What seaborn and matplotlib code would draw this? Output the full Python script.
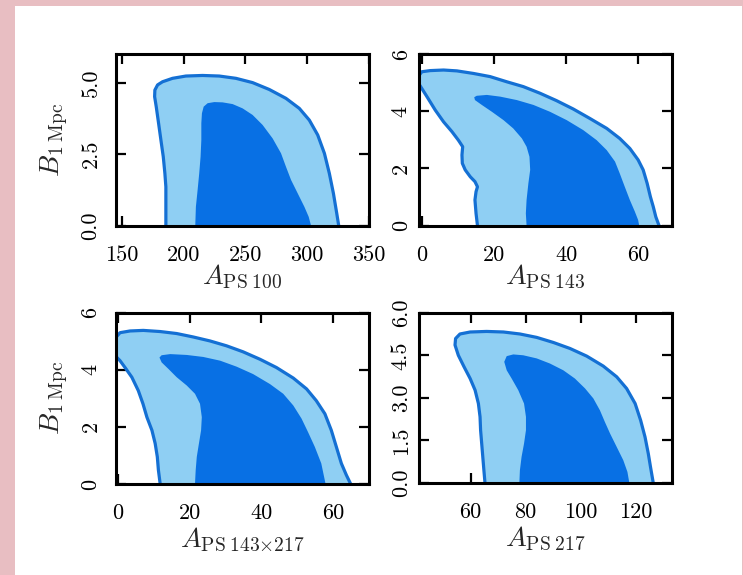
import matplotlib
matplotlib.use("Agg")
import matplotlib.pyplot as plt
import seaborn as sns
import pandas as pd
from matplotlib.patches import Rectangle

# ---------------- data ----------------
# Panel 1: A_PS100 vs B_1Mpc  (95% outer contour and 68% inner contour)
p1_outer_x = [185.6, 185.6, 184.8, 183.5, 181.6, 179.7, 177.8, 176.5, 176.7, 178.9, 182.9, 191.0, 201.8, 215.3,
              228.8, 242.3, 255.8, 269.3, 282.8, 293.6, 301.7, 308.5, 313.9, 317.9, 321.2, 323.9, 325.5]
p1_outer_y = [0.0, 1.36, 1.83, 2.41, 2.99, 3.58, 4.16, 4.51, 4.74, 4.92, 5.03, 5.15, 5.23, 5.25,
              5.23, 5.15, 5.00, 4.76, 4.45, 4.10, 3.69, 3.17, 2.53, 1.83, 1.13, 0.43, 0.0]
p1_inner_x = [209.4, 209.9, 211.3, 212.6, 213.7, 214.3, 214.3, 214.8, 216.2, 219.4, 224.8, 231.5, 239.6, 247.7,
              255.8, 263.9, 272.0, 278.8, 282.8, 286.9, 292.3, 297.7, 301.2, 303.1]
p1_inner_y = [0.0, 0.66, 1.25, 1.83, 2.41, 2.99, 3.58, 3.93, 4.16, 4.28, 4.32, 4.31, 4.25, 4.10,
              3.87, 3.52, 3.05, 2.53, 2.06, 1.60, 1.13, 0.66, 0.31, 0.0]

# Panel 2: A_PS143 vs B_1Mpc
p2_outer_x = [15.4, 15.0, 14.7, 15.0, 15.4, 14.7, 13.4, 12.0, 11.2, 11.1, 11.3, 10.1, 8.3, 6.0, 3.7, 1.4, -0.8,
              -0.8, 0.0, 2.3, 6.0, 9.7, 14.3, 18.9, 23.5, 28.1, 32.7, 37.3, 41.9, 46.5, 51.2, 54.8, 57.6, 59.9,
              61.3, 62.4, 63.3, 64.1, 64.8, 65.7]
p2_outer_y = [0.0, 0.43, 0.90, 1.19, 1.36, 1.54, 1.71, 1.95, 2.18, 2.47, 2.76, 2.99, 3.29, 3.63, 4.04, 4.51, 4.95,
              5.25, 5.38, 5.42, 5.44, 5.41, 5.32, 5.21, 5.03, 4.86, 4.63, 4.37, 4.08, 3.75, 3.40, 3.05, 2.70, 2.30,
              1.95, 1.48, 1.01, 0.66, 0.31, 0.0]
p2_inner_x = [29.0, 28.8, 29.0, 29.5, 30.0, 29.8, 29.0, 27.7, 25.3, 22.6, 19.4, 16.6, 14.7, 14.5, 15.2, 18.0,
              21.7, 26.3, 30.9, 35.5, 40.1, 44.7, 48.4, 51.2, 53.5, 54.8, 56.2, 57.6, 59.0, 59.9, 60.2]
p2_inner_y = [0.0, 0.43, 0.90, 1.48, 1.95, 2.41, 2.76, 3.05, 3.40, 3.69, 3.98, 4.22, 4.39, 4.49, 4.54, 4.57,
              4.51, 4.39, 4.22, 3.98, 3.69, 3.34, 2.99, 2.64, 2.24, 1.83, 1.36, 0.90, 0.49, 0.20, 0.0]

# Panel 3: A_PS143x217 vs B_1Mpc
p3_outer_x = [11.8, 11.3, 11.0, 10.4, 9.5, 8.1, 7.0, 5.7, 3.9, 2.0, 0.6, -0.8, -0.8, 0.6, 3.4, 7.1, 11.8, 16.4,
              21.0, 25.7, 30.3, 34.9, 39.6, 44.2, 48.9, 52.6, 55.3, 57.7, 59.5, 60.9, 62.3, 63.7, 64.9]
p3_outer_y = [0.0, 0.49, 0.95, 1.42, 1.88, 2.34, 2.81, 3.27, 3.74, 4.08, 4.32, 4.50, 5.10, 5.30, 5.36, 5.38, 5.34,
              5.27, 5.15, 5.01, 4.84, 4.63, 4.37, 4.08, 3.71, 3.33, 2.92, 2.46, 1.88, 1.30, 0.72, 0.31, 0.0]
p3_inner_x = [21.5, 21.7, 22.0, 22.6, 23.2, 23.4, 22.9, 21.5, 19.2, 16.4, 14.1, 12.2, 11.6, 12.2, 14.6, 19.2,
              23.8, 28.5, 33.1, 37.7, 42.4, 46.1, 48.9, 51.2, 53.0, 54.9, 56.7, 57.9]
p3_inner_y = [0.0, 0.49, 0.95, 1.42, 1.88, 2.34, 2.81, 3.16, 3.45, 3.74, 4.03, 4.26, 4.43, 4.51, 4.55, 4.52,
              4.45, 4.32, 4.11, 3.85, 3.50, 3.16, 2.75, 2.29, 1.82, 1.30, 0.72, 0.0]

# Panel 4: A_PS217 vs B_1Mpc
p4_outer_x = [65.2, 64.8, 64.4, 64.0, 63.6, 63.4, 62.8, 61.6, 59.8, 57.6, 55.5, 54.3, 54.5, 56.1, 59.8, 65.8,
              71.9, 77.9, 84.0, 90.1, 96.1, 102.2, 108.2, 113.1, 116.7, 119.8, 121.8, 123.4, 124.6, 125.4, 126.4]
p4_outer_y = [0.0, 0.45, 0.92, 1.39, 1.86, 2.33, 2.80, 3.27, 3.68, 4.09, 4.50, 4.86, 5.09, 5.25, 5.32, 5.34,
              5.32, 5.25, 5.13, 4.95, 4.74, 4.47, 4.12, 3.74, 3.33, 2.80, 2.21, 1.62, 1.03, 0.56, 0.0]
p4_inner_x = [77.7, 77.9, 78.5, 79.4, 80.1, 80.1, 79.4, 77.3, 74.9, 73.1, 72.2, 73.1, 75.5, 79.1, 84.0, 88.8,
              93.7, 97.9, 101.6, 104.6, 107.0, 108.8, 110.7, 113.1, 115.5, 117.0, 117.7]
p4_inner_y = [0.0, 0.45, 0.92, 1.39, 1.86, 2.33, 2.80, 3.27, 3.68, 3.97, 4.27, 4.47, 4.53, 4.50, 4.39, 4.21,
              3.97, 3.68, 3.33, 2.98, 2.56, 2.15, 1.74, 1.27, 0.80, 0.39, 0.0]

x_labels = [r"$A_{\rm PS\;100}$", r"$A_{\rm PS\;143}$",
            r"$A_{\rm PS\;143{\times}217}$", r"$A_{\rm PS\;217}$"]
y_label = r"$B_{\rm 1\;Mpc}$"

p1_xticks = [150, 200, 250, 300, 350]
p2_xticks = [0, 20, 40, 60]
p3_xticks = [0, 20, 40, 60]
p4_xticks = [60, 80, 100, 120]
p1_yticks = [0.0, 2.5, 5.0]
p1_yticklabels = ["0.0", "2.5", "5.0"]
p2_yticks = [0, 2, 4, 6]
p2_yticklabels = ["0", "2", "4", "6"]
p3_yticks = [0, 2, 4, 6]
p3_yticklabels = ["0", "2", "4", "6"]
p4_yticks = [0.0, 1.5, 3.0, 4.5, 6.0]
p4_yticklabels = ["0.0", "1.5", "3.0", "4.5", "6.0"]

# ---------------- style ----------------
sns.set_theme(style="ticks")
plt.rcParams["font.family"] = ["cmr10", "DejaVu Serif"]
plt.rcParams["mathtext.fontset"] = "cm"
plt.rcParams["axes.formatter.use_mathtext"] = True
plt.rcParams["axes.unicode_minus"] = False

DARK = "#0870e4"
LIGHT = "#8fcff3"
EDGE = "#1470d4"

fig = plt.figure(figsize=(7.43, 5.75), dpi=100, facecolor="#e8bec2")
fig.patches.append(Rectangle((15 / 743, 0), (742 - 15) / 743, 1 - 6 / 575,
                             transform=fig.transFigure, facecolor="white",
                             edgecolor="none", zorder=-10))

W, H = 743, 575
def pos(l, t, r, b):
    return [l / W, 1 - b / H, (r - l) / W, (b - t) / H]

panels = [
    dict(rect=pos(115.7, 54, 369, 225.7), ox=p1_outer_x, oy=p1_outer_y, ix=p1_inner_x, iy=p1_inner_y,
         xlim=(145, 350), xt=p1_xticks, yt=p1_yticks, ytl=p1_yticklabels, ylab=True, ypad=11, xlp=-1),
    dict(rect=pos(419, 54, 671.7, 225.7), ox=p2_outer_x, oy=p2_outer_y, ix=p2_inner_x, iy=p2_inner_y,
         xlim=(-0.8, 69.2), xt=p2_xticks, yt=p2_yticks, ytl=p2_yticklabels, ylab=False, ypad=6, xlp=-1),
    dict(rect=pos(115.7, 312.7, 369, 484), ox=p3_outer_x, oy=p3_outer_y, ix=p3_inner_x, iy=p3_inner_y,
         xlim=(-0.6, 70.0), xt=p3_xticks, yt=p3_yticks, ytl=p3_yticklabels, ylab=True, ypad=11, xlp=2),
    dict(rect=pos(419, 312.7, 671.7, 483), ox=p4_outer_x, oy=p4_outer_y, ix=p4_inner_x, iy=p4_inner_y,
         xlim=(41.2, 133.1), xt=p4_xticks, yt=p4_yticks, ytl=p4_yticklabels, ylab=False, ypad=6, xlp=2),
]

for i, p in enumerate(panels):
    ax = fig.add_axes(p["rect"])
    ax.set_facecolor("white")
    ax.fill(p["ox"], p["oy"], color=LIGHT, lw=0, zorder=1)
    ax.fill(p["ix"], p["iy"], color=DARK, lw=0, zorder=2)
    df = pd.DataFrame({"x": p["ox"], "y": p["oy"]})
    sns.lineplot(data=df, x="x", y="y", sort=False, estimator=None, color=EDGE, lw=2.3, ax=ax,
                 zorder=3, solid_joinstyle="round", solid_capstyle="round")
    ax.set_xlim(*p["xlim"])
    ax.set_ylim(0, 6)
    ax.set_xticks(p["xt"])
    ax.set_xticklabels([str(v) for v in p["xt"]])
    ax.set_yticks(p["yt"])
    ax.set_yticklabels(p["ytl"], rotation=90, va="center")
    ax.tick_params(direction="in", length=7, width=1.6, top=True, right=True,
                   labelsize=16, colors="black")
    ax.tick_params(axis="x", pad=14)
    ax.tick_params(axis="y", pad=p["ypad"])
    for s in ax.spines.values():
        s.set_linewidth(2.2)
        s.set_color("black")
        s.set_zorder(5)
    ax.set_xlabel(x_labels[i], fontsize=20, labelpad=p["xlp"])
    if p["ylab"]:
        ax.set_ylabel(y_label, fontsize=20, labelpad=8)
    else:
        ax.set_ylabel("")

fig.savefig("out.png", dpi=100, facecolor=fig.get_facecolor())
